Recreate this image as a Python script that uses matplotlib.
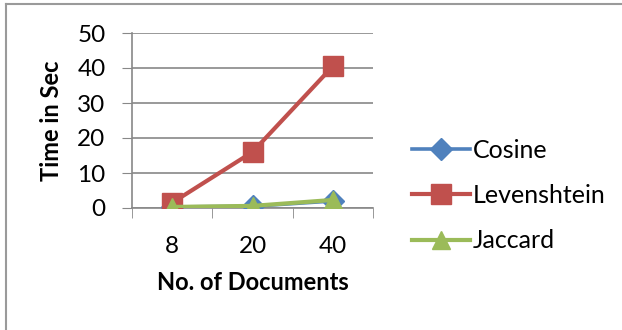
import matplotlib
matplotlib.use("Agg")
import matplotlib.pyplot as plt
from matplotlib.lines import Line2D

categories = ["8", "20", "40"]
cosine = [0.3, 0.5, 2.0]
levenshtein = [1.5, 16.0, 40.5]
jaccard = [0.3, 0.6, 2.3]
series_names = ["Cosine", "Levenshtein", "Jaccard"]
y_ticks = [0, 10, 20, 30, 40, 50]

plt.rcParams['font.family'] = ['Lato', 'DejaVu Sans']

W, H = 622, 330
fig = plt.figure(figsize=(W / 100, H / 100), dpi=100)
ax = fig.add_axes([132 / W, 1 - 208 / H, (373 - 132) / W, (208 - 33) / H])

x = list(range(len(categories)))
blue, red, green = "#4F81BD", "#C0504D", "#9BBB59"
ax.plot(x, cosine, color=blue, lw=2.6, marker="D", ms=11, label=series_names[0], zorder=3)
ax.plot(x, levenshtein, color=red, lw=3.0, marker="s", ms=14, label=series_names[1], zorder=4)
ax.plot(x, jaccard, color=green, lw=3.0, marker="^", ms=13, label=series_names[2], zorder=5)

ax.set_xlim(-0.5, len(categories) - 0.5)
ax.set_ylim(0, 50)
ax.set_yticks(y_ticks)
ax.set_xticks(x)
ax.set_xticklabels(categories)
ax.set_xticks([i - 0.5 for i in range(len(categories) + 1)], minor=True)
ax.tick_params(axis="x", which="major", length=0, pad=20, labelsize=17.5)
ax.tick_params(axis="x", which="minor", length=7, color="#888888", direction="out")
ax.tick_params(axis="y", length=7, color="#888888", direction="out", labelsize=17.5, pad=12)
ax.yaxis.grid(True, color="#888888", lw=1.2)
ax.set_axisbelow(True)
for s in ["top", "right"]:
    ax.spines[s].set_visible(False)
for s in ["left", "bottom"]:
    ax.spines[s].set_color("#888888")
    ax.spines[s].set_linewidth(1.2)

ax.set_xlabel("No. of Documents", fontsize=17, fontweight="bold", labelpad=10)
ax.set_ylabel("Time in Sec", fontsize=17, fontweight="bold", labelpad=10)

leg = fig.legend(loc="upper left", bbox_to_anchor=(390 / W, 1 - 116 / H), frameon=False,
                 handlelength=2.3, labelspacing=0.9, fontsize=18, handletextpad=0.1)

# outer chart border (top and left visible)
fig.add_artist(Line2D([6 / W, 1], [1 - 4 / H, 1 - 4 / H], transform=fig.transFigure, color="#9a9a9a", lw=1.5))
fig.add_artist(Line2D([6 / W, 6 / W], [0, 1 - 4 / H], transform=fig.transFigure, color="#9a9a9a", lw=1.5))

fig.savefig("out.png", dpi=100)
